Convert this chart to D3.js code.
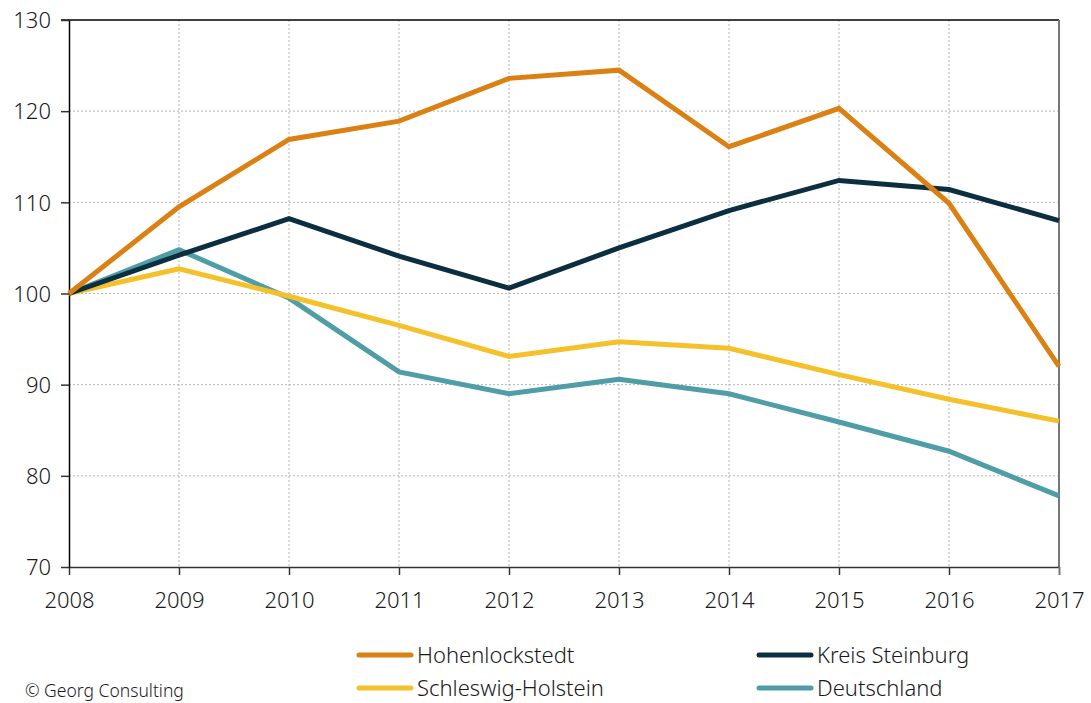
<!DOCTYPE html>
<html>
<head>
<meta charset="utf-8">
<script src="https://cdn.jsdelivr.net/npm/d3@7"></script>
<style>
  body { margin: 0; background: #fff; }
  svg { font-family: "Noto Sans", "Open Sans", sans-serif; }
</style>
</head>
<body>
<svg></svg>
<script>
const width = 1091;
const height = 703;
const margin = { left: 69, right: 32, top: 20, bottom: 137 };

const years = [2008, 2009, 2010, 2011, 2012, 2013, 2014, 2015, 2016, 2017];
const yTicks = [70, 80, 90, 100, 110, 120, 130];

const hohenlockstedt = [100, 109.5, 116.9, 118.9, 123.6, 124.5, 116.1, 120.3, 109.9, 92.0];
const kreisSteinburg = [100, 104.2, 108.2, 104.1, 100.6, 105.0, 109.1, 112.4, 111.4, 108.0];
const schleswigHolstein = [100, 102.7, 99.7, 96.5, 93.1, 94.7, 94.0, 91.1, 88.4, 86.0];
const deutschland = [100, 104.8, 99.5, 91.4, 89.0, 90.6, 89.0, 85.9, 82.7, 77.8];

const seriesNames = ["Hohenlockstedt", "Kreis Steinburg", "Schleswig-Holstein", "Deutschland"];
const seriesColors = ["#db8013", "#0c2f3f", "#f5c12b", "#4f9da6"];
const seriesValues = [hohenlockstedt, kreisSteinburg, schleswigHolstein, deutschland];

const svg = d3.select("svg")
    .attr("width", width)
    .attr("height", height);

const xScale = d3.scaleLinear()
  .domain([2008, 2017])
  .range([margin.left, width - margin.right]);

const yScale = d3.scaleLinear()
  .domain([70, 130])
  .range([height - margin.bottom + 1, margin.top]);

// grid
svg.append("g")
  .selectAll("line")
  .data(yTicks.slice(1, -1))
  .enter()
  .append("line")
    .attr("x1", margin.left)
    .attr("x2", width - margin.right)
    .attr("y1", d => yScale(d))
    .attr("y2", d => yScale(d))
    .attr("stroke", "#b5b5b5")
    .attr("stroke-dasharray", "2,2");

svg.append("g")
  .selectAll("line")
  .data(years.slice(1, -1))
  .enter()
  .append("line")
    .attr("x1", d => xScale(d))
    .attr("x2", d => xScale(d))
    .attr("y1", margin.top)
    .attr("y2", yScale(70))
    .attr("stroke", "#b5b5b5")
    .attr("stroke-dasharray", "2,2");

// frame top + right
svg.append("line")
  .attr("x1", margin.left - 8).attr("x2", width - margin.right)
  .attr("y1", margin.top).attr("y2", margin.top)
  .attr("stroke", "#000").attr("stroke-width", 1.5);

svg.append("line")
  .attr("x1", width - margin.right).attr("x2", width - margin.right)
  .attr("y1", margin.top).attr("y2", yScale(70))
  .attr("stroke", "#777").attr("stroke-width", 2);

// axes
const xAxis = d3.axisBottom(xScale)
  .tickValues(years)
  .tickFormat(d3.format("d"))
  .tickSize(8)
  .tickSizeOuter(0)
  .tickPadding(17);

const yAxis = d3.axisLeft(yScale)
  .tickValues(yTicks)
  .tickSize(8)
  .tickSizeOuter(0)
  .tickPadding(10);

const gx = svg.append("g")
    .attr("transform", `translate(0, ${yScale(70)})`)
    .call(xAxis);

const gy = svg.append("g")
    .attr("transform", `translate(${margin.left}, 0)`)
    .call(yAxis);

gx.select(".domain").attr("stroke", "#333").attr("stroke-width", 1.5);
gy.select(".domain").attr("stroke", "#000").attr("stroke-width", 1.5);
gx.selectAll(".tick line").attr("stroke", "#333").attr("stroke-width", 1.5);
gy.selectAll(".tick line").attr("stroke", "#333").attr("stroke-width", 1.5);
gx.selectAll(".tick:last-of-type line").attr("stroke", "#777").attr("stroke-width", 2);

[gx, gy].forEach(g => g.selectAll("text")
  .style("font-size", "22px")
  .style("font-weight", 300)
  .style("font-family", "'Noto Sans', sans-serif")
  .attr("fill", "#1a1a1a"));
gy.selectAll("text").attr("dy", "0.35em");

// lines
const line = d3.line()
  .x((d, i) => xScale(years[i]))
  .y(d => yScale(d));

svg.append("g")
  .selectAll("path")
  .data(seriesValues.map((v, i) => ({ values: v, color: seriesColors[i] })).reverse())
  .enter()
  .append("path")
    .attr("d", d => line(d.values))
    .attr("fill", "none")
    .attr("stroke", d => d.color)
    .attr("stroke-width", 5)
    .attr("stroke-linejoin", "miter");

// legend
const legendX = [357, 757];
const legendY = [655, 688];

const legend = svg.append("g")
  .selectAll("g")
  .data(seriesNames)
  .enter()
  .append("g")
    .attr("transform", (d, i) => `translate(${legendX[i % 2]}, ${legendY[Math.floor(i / 2)]})`);

legend.append("line")
  .attr("x1", 2).attr("x2", 54)
  .attr("stroke", (d, i) => seriesColors[i])
  .attr("stroke-width", 5)
  .attr("stroke-linecap", "round");

legend.append("text")
  .attr("x", 60)
  .attr("dy", "0.35em")
  .style("font-size", "22px")
  .style("font-weight", 300)
  .attr("fill", "#1a1a1a")
  .text(d => d);

svg.append("text")
  .attr("x", 25)
  .attr("y", 697)
  .style("font-size", "17.5px")
  .style("font-weight", 300)
  .attr("fill", "#1a1a1a")
  .text("© Georg Consulting");
</script>
</body>
</html>
